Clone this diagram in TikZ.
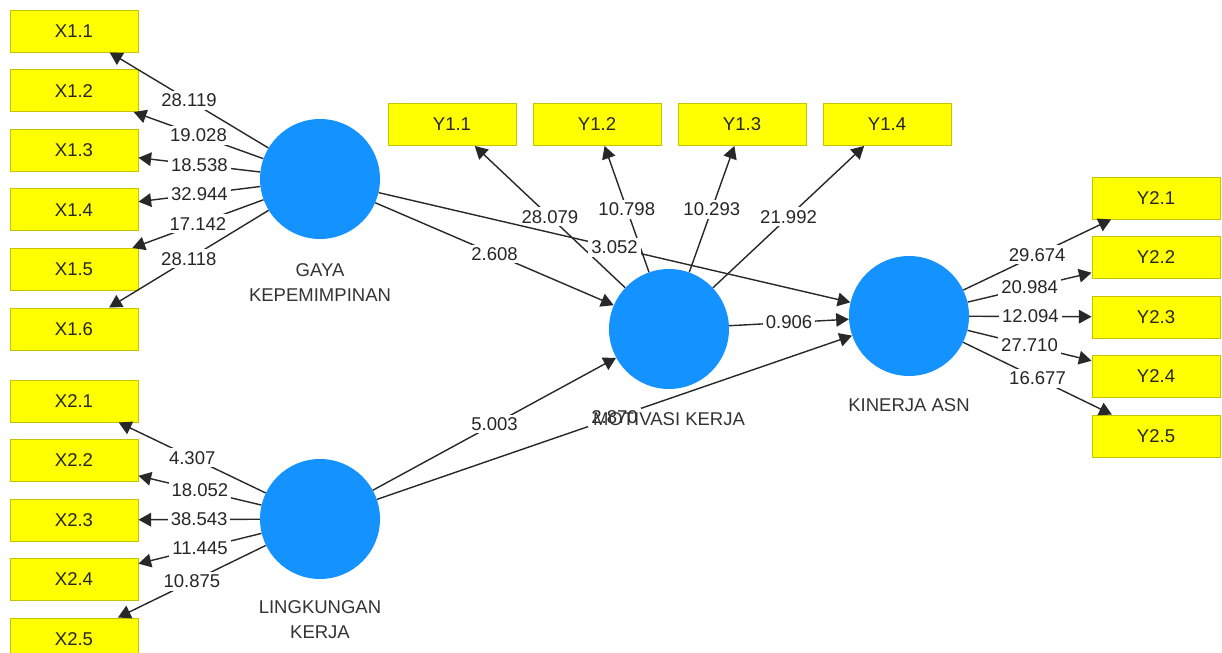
\documentclass[tikz,border=0pt]{standalone}
\usepackage{fontspec}
\setmainfont{Liberation Sans}
\usetikzlibrary{arrows.meta}
\definecolor{lvblue}{RGB}{20,146,255}
\definecolor{indyellow}{RGB}{255,255,0}
\definecolor{indborder}{RGB}{196,196,0}
\definecolor{edgegray}{RGB}{40,40,40}
\begin{document}
\begin{tikzpicture}[x=0.03cm, y=-0.03cm,
  font=\fontsize{15.8}{22}\selectfont,
  lv/.style={circle, fill=lvblue, minimum size=3.6cm, inner sep=0pt},
  ind/.style={rectangle, fill=indyellow, draw=indborder, line width=0.8pt, minimum width=3.84cm, minimum height=1.26cm, inner sep=0pt, text=black!85},
  lvname/.style={anchor=north, inner sep=0pt, align=center, text=black!80},
  arr/.style={draw=edgegray, line width=1.2pt, -{Triangle[length=0.38cm, width=0.41cm]}},
  val/.style={midway, fill=white, inner sep=2.5pt, text=black!85}]
\useasboundingbox (0,0) rectangle (1222,653);
% latent variables
\node[lv] (gaya) at (320,179){};
\node[lv] (lingk) at (320,519){};
\node[lv] (motiv) at (669,329){};
\node[lv] (kinerja) at (909,316){};
% indicators
\node[ind] (x11) at (74,31){X1.1};
\node[ind] (x12) at (74,90.6){X1.2};
\node[ind] (x13) at (74,150.2){X1.3};
\node[ind] (x14) at (74,209.8){X1.4};
\node[ind] (x15) at (74,269.4){X1.5};
\node[ind] (x16) at (74,329){X1.6};
\node[ind] (x21) at (74,401){X2.1};
\node[ind] (x22) at (74,460.5){X2.2};
\node[ind] (x23) at (74,520){X2.3};
\node[ind] (x24) at (74,579.5){X2.4};
\node[ind] (x25) at (74,639){X2.5};
\node[ind] (y11) at (452,124.5){Y1.1};
\node[ind] (y12) at (597,124.5){Y1.2};
\node[ind] (y13) at (742,124.5){Y1.3};
\node[ind] (y14) at (887,124.5){Y1.4};
\node[ind] (y21) at (1156,198){Y2.1};
\node[ind] (y22) at (1156,257.5){Y2.2};
\node[ind] (y23) at (1156,317){Y2.3};
\node[ind] (y24) at (1156,376.5){Y2.4};
\node[ind] (y25) at (1156,436){Y2.5};
% outer model
\draw[arr](gaya) -- node[val]{28.119} (x11);
\draw[arr](gaya) -- node[val]{19.028} (x12);
\draw[arr](gaya) -- node[val]{18.538} (x13);
\draw[arr](gaya) -- node[val]{32.944} (x14);
\draw[arr](gaya) -- node[val]{17.142} (x15);
\draw[arr](gaya) -- node[val]{28.118} (x16);
\draw[arr](lingk) -- node[val]{4.307} (x21);
\draw[arr](lingk) -- node[val]{18.052} (x22);
\draw[arr](lingk) -- node[val]{38.543} (x23);
\draw[arr](lingk) -- node[val]{11.445} (x24);
\draw[arr](lingk) -- node[val]{10.875} (x25);
\draw[arr](motiv) -- node[val]{28.079} (y11);
\draw[arr](motiv) -- node[val]{10.798} (y12);
\draw[arr](motiv) -- node[val]{10.293} (y13);
\draw[arr](motiv) -- node[val]{21.992} (y14);
\draw[arr](kinerja) -- node[val]{29.674} (y21);
\draw[arr](kinerja) -- node[val]{20.984} (y22);
\draw[arr](kinerja) -- node[val]{12.094} (y23);
\draw[arr](kinerja) -- node[val]{27.710} (y24);
\draw[arr](kinerja) -- node[val]{16.677} (y25);
% inner model
\draw[arr](gaya) -- node[val]{2.608} (motiv);
\draw[arr](gaya) -- node[val]{3.052} (kinerja);
\draw[arr](lingk) -- node[val]{5.003} (motiv);
\draw[arr](lingk) -- node[val]{2.870} (kinerja);
\draw[arr](motiv) -- node[val]{0.906} (kinerja);
% names
\node[lvname] (gayaname) at (320,263){GAYA\\KEPEMIMPINAN};
\node[lvname] (lingkname) at (320,600){LINGKUNGAN\\KERJA};
\node[lvname] (motivname) at (669,412){MOTIVASI KERJA};
\node[lvname] (kinerjaname) at (909,398){KINERJA ASN};
\end{tikzpicture}
\end{document}
